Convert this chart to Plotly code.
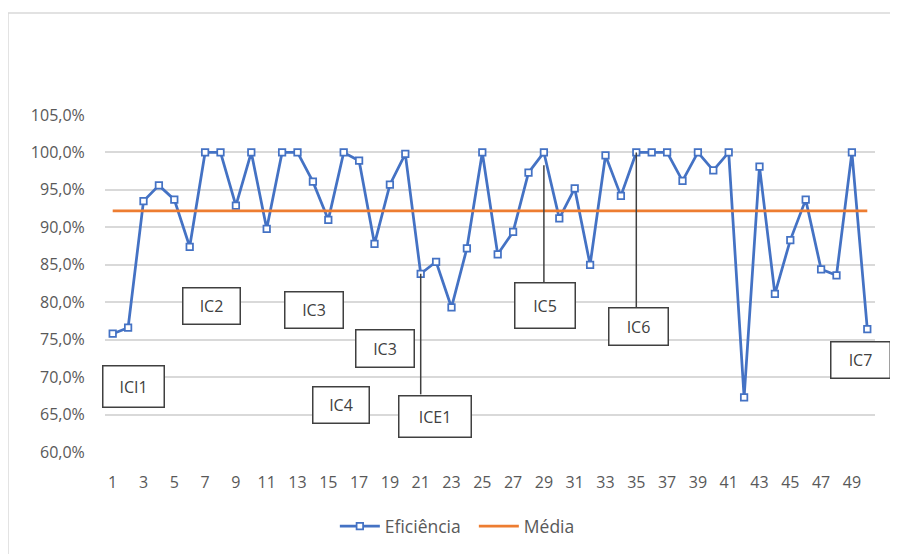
import plotly.graph_objects as go

# ---- data ----
amostras = list(range(1, 51))
eficiencia = [75.8, 76.6, 93.5, 95.6, 93.7, 87.4, 100.0, 100.0, 92.9, 100.0,
              89.8, 100.0, 100.0, 96.1, 91.0, 100.0, 98.9, 87.8, 95.7, 99.8,
              83.8, 85.4, 79.3, 87.2, 100.0, 86.4, 89.4, 97.3, 100.0, 91.2,
              95.2, 85.0, 99.6, 94.2, 100.0, 100.0, 100.0, 96.2, 100.0, 97.6,
              100.0, 67.3, 98.1, 81.1, 88.3, 93.7, 84.4, 83.6, 100.0, 76.4]
media_valor = 92.2
media = [media_valor] * len(amostras)
x_ticks = list(range(1, 50, 2))
y_ticks = [60, 65, 70, 75, 80, 85, 90, 95, 100, 105]
y_ticktext = ["60,0%", "65,0%", "70,0%", "75,0%", "80,0%", "85,0%",
              "90,0%", "95,0%", "100,0%", "105,0%"]

# ---- annotation boxes: label, x, y (data coords), width, height (px) ----
boxes = [
    ("ICI1", 2.36, 68.8, 60, 40),
    ("IC2", 7.44, 79.5, 56, 35),
    ("IC3", 14.05, 79.0, 57, 35),
    ("IC3", 18.7, 73.85, 57, 36),
    ("IC4", 15.8, 66.3, 55, 35),
    ("ICE1", 21.9, 64.8, 71, 40),
    ("IC5", 29.1, 79.6, 59, 44),
    ("IC6", 35.15, 76.8, 58, 36),
    ("IC7", 49.55, 72.3, 58, 35),
]
# connectors: point index (1-based), box top y
connectors = [(21, 67.7), (29, 82.7), (35, 79.3)]

FONT = "Open Sans"
GREY = "#595959"

fig = go.Figure()
fig.add_trace(go.Scatter(
    x=amostras, y=eficiencia, name="Eficiência", mode="lines+markers",
    line=dict(color="#4472C4", width=2.75),
    marker=dict(symbol="square", size=6.5, color="white",
                line=dict(color="#4472C4", width=1.75)),
))
fig.add_trace(go.Scatter(
    x=amostras, y=media, name="Média", mode="lines",
    line=dict(color="#ED7D31", width=2.75),
))

for label, bx, by, w, h in boxes:
    fig.add_annotation(
        x=bx, y=by, xref="x", yref="y", text=label, showarrow=False,
        width=w, height=h, borderpad=0, bordercolor="#404040", borderwidth=1.5,
        bgcolor="white", font=dict(family=FONT, size=16, color="#404040"),
        valign="middle", align="center",
    )

for idx, ytop in connectors:
    yp = eficiencia[idx - 1]
    if idx == 29:
        yp = yp - 1.7
    fig.add_shape(type="line", xref="x", yref="y", x0=idx, x1=idx, y0=yp, y1=ytop,
                  line=dict(color="#404040", width=1.5), layer="above")

# outer chart border (light grey)
fig.add_shape(type="rect", xref="paper", yref="paper",
              x0=-0.126, x1=1.06, y0=-0.35, y1=1.303,
              line=dict(color="#d9d9d9", width=1.5), layer="below")

fig.update_layout(
    width=898, height=554,
    margin=dict(l=97, r=31, t=107, b=110),
    paper_bgcolor="white", plot_bgcolor="white",
    font=dict(family=FONT, size=16, color=GREY),
    showlegend=True,
    legend=dict(orientation="h", x=0.2985, xanchor="left", y=-0.22, yanchor="middle",
                font=dict(family=FONT, size=17.5, color=GREY), itemwidth=40,
                entrywidth=84, entrywidthmode="pixels"),
    xaxis=dict(range=[0.5, 50.5], tickmode="array", tickvals=x_ticks,
               showgrid=False, zeroline=False, showline=False,
               ticks="outside", ticklen=16, tickcolor="rgba(0,0,0,0)",
               tickfont=dict(size=16, color=GREY)),
    yaxis=dict(range=[60, 105], tickmode="array", tickvals=y_ticks,
               ticktext=y_ticktext,
               showgrid=True, gridcolor="#d9d9d9", gridwidth=1.5,
               zeroline=False, showline=False,
               ticks="outside", ticklen=16, tickcolor="rgba(0,0,0,0)",
               tickfont=dict(size=16, color=GREY)),
)

fig.write_html("out.html")
